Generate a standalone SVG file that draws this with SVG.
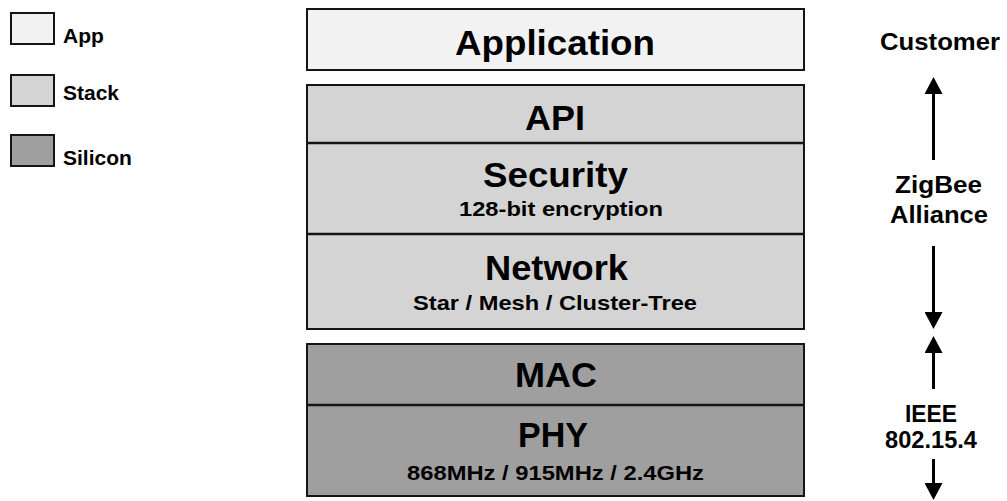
<svg xmlns="http://www.w3.org/2000/svg" width="1007" height="501" viewBox="0 0 1007 501">
<style>
  text { font-family: "Liberation Sans", Arial, sans-serif; font-weight: bold; fill: #000; }
  .box { stroke: #151515; stroke-width: 2; }
  .app { fill: #f2f2f2; }
  .stack { fill: #d4d4d4; }
  .sil { fill: #9f9f9f; }
  .div { stroke: #151515; stroke-width: 2.5; }
  .t1 { font-size: 34.5px; text-anchor: middle; }
  .t2 { font-size: 20.5px; text-anchor: middle; }
  .leg { font-size: 21px; }
  .side { font-size: 24px; text-anchor: middle; }
  .arr { stroke: #000; stroke-width: 3; fill: none; marker-end: url(#head); }
</style>
<defs>
  <marker id="head" viewBox="0 0 17 18" markerWidth="17" markerHeight="18" markerUnits="userSpaceOnUse" refX="0" refY="9" orient="auto">
    <path d="M0,0 L17,9 L0,18 z" fill="#000"/>
  </marker>
</defs>
<rect width="1007" height="501" fill="#fff"/>

<g id="legend">
  <g id="legend-app"><rect class="box app" x="11" y="13" width="43" height="31"/><text class="leg" x="63" y="43">App</text></g>
  <g id="legend-stack"><rect class="box stack" x="11" y="75" width="43" height="31"/><text class="leg" x="63" y="100">Stack</text></g>
  <g id="legend-silicon"><rect class="box sil" x="11" y="135" width="43" height="31"/><text class="leg" x="63" y="165">Silicon</text></g>
</g>

<g id="application">
  <rect class="box app" x="307" y="9" width="497" height="61"/>
  <text class="t1" x="555" y="55" textLength="200" lengthAdjust="spacingAndGlyphs">Application</text>
</g>

<g id="stack">
  <rect class="box stack" x="307" y="85" width="497" height="244"/>
  <g id="api">
    <text class="t1" x="555" y="130" textLength="60" lengthAdjust="spacingAndGlyphs">API</text>
  </g>
  <g id="security">
    <line class="div" x1="307" y1="143" x2="804" y2="143"/>
    <text class="t1" x="555.5" y="187" textLength="145" lengthAdjust="spacingAndGlyphs">Security</text>
    <text class="t2" x="561" y="216" textLength="204" lengthAdjust="spacingAndGlyphs">128-bit encryption</text>
  </g>
  <g id="network">
    <line class="div" x1="307" y1="234" x2="804" y2="234"/>
    <text class="t1" x="556.5" y="280" textLength="143" lengthAdjust="spacingAndGlyphs">Network</text>
    <text class="t2" x="555" y="310" textLength="284" lengthAdjust="spacingAndGlyphs">Star / Mesh / Cluster-Tree</text>
  </g>
</g>

<g id="silicon">
  <rect class="box sil" x="307" y="344" width="497" height="152"/>
  <g id="mac">
    <text class="t1" x="556" y="387" textLength="82" lengthAdjust="spacingAndGlyphs">MAC</text>
  </g>
  <g id="phy">
    <line class="div" x1="307" y1="405" x2="804" y2="405"/>
    <text class="t1" x="553" y="447" textLength="70" lengthAdjust="spacingAndGlyphs">PHY</text>
    <text class="t2" x="555.5" y="480" textLength="297" lengthAdjust="spacingAndGlyphs">868MHz / 915MHz / 2.4GHz</text>
  </g>
</g>

<g id="customer"><text class="side" x="940" y="50" textLength="120" lengthAdjust="spacingAndGlyphs">Customer</text></g>
<g id="zigbee">
  <text class="side" x="938.5" y="193" textLength="87" lengthAdjust="spacingAndGlyphs">ZigBee</text>
  <text class="side" x="939" y="223" textLength="98" lengthAdjust="spacingAndGlyphs">Alliance</text>
</g>
<g id="ieee">
  <text class="side" x="931" y="422" textLength="52" lengthAdjust="spacingAndGlyphs">IEEE</text>
  <text class="side" x="931" y="448" textLength="92" lengthAdjust="spacingAndGlyphs">802.15.4</text>
</g>

<g id="connectors">
  <line class="arr" x1="933.5" y1="160" x2="933.5" y2="94"/>
  <line class="arr" x1="933.5" y1="246" x2="933.5" y2="312"/>
  <line class="arr" x1="933.5" y1="389" x2="933.5" y2="353"/>
  <line class="arr" x1="933.5" y1="459" x2="933.5" y2="483"/>
</g>
</svg>
